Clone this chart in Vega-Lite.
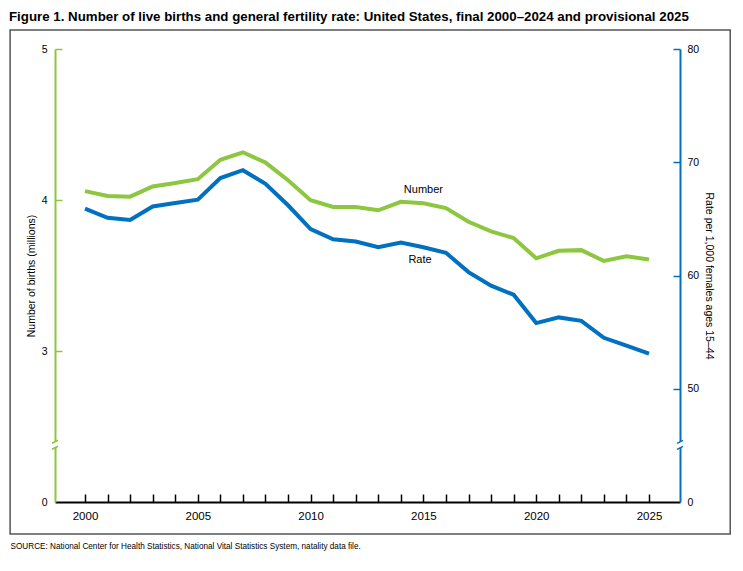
{
  "$schema": "https://vega.github.io/schema/vega-lite/v6.json",
  "width": 625,
  "height": 453,
  "autosize": {"type": "none"},
  "padding": {"left": 55, "top": 49, "right": 63, "bottom": 69},
  "background": "white",
  "config": {
    "view": {"stroke": null},
    "font": "Liberation Sans",
    "axis": {"labelFont": "Liberation Sans", "titleFont": "Liberation Sans", "labelColor": "#000", "titleColor": "#000", "titleFontWeight": "normal", "grid": false}
  },
  "title": {
    "text": "Figure 1. Number of live births and general fertility rate: United States, final 2000–2024 and provisional 2025",
    "anchor": "start",
    "frame": "group",
    "dx": -46,
    "font": "Liberation Sans",
    "fontWeight": "bold",
    "fontSize": 13.3,
    "color": "#000",
    "offset": 6
  },
  "data": {
    "values": [
      {"year": 2000, "births": 4.059, "rate": 65.9},
      {"year": 2001, "births": 4.026, "rate": 65.1},
      {"year": 2002, "births": 4.022, "rate": 64.9},
      {"year": 2003, "births": 4.090, "rate": 66.1},
      {"year": 2004, "births": 4.112, "rate": 66.4},
      {"year": 2005, "births": 4.138, "rate": 66.7},
      {"year": 2006, "births": 4.266, "rate": 68.6},
      {"year": 2007, "births": 4.316, "rate": 69.3},
      {"year": 2008, "births": 4.248, "rate": 68.1},
      {"year": 2009, "births": 4.131, "rate": 66.2},
      {"year": 2010, "births": 3.999, "rate": 64.1},
      {"year": 2011, "births": 3.954, "rate": 63.2},
      {"year": 2012, "births": 3.953, "rate": 63.0},
      {"year": 2013, "births": 3.932, "rate": 62.5},
      {"year": 2014, "births": 3.988, "rate": 62.9},
      {"year": 2015, "births": 3.978, "rate": 62.5},
      {"year": 2016, "births": 3.946, "rate": 62.0},
      {"year": 2017, "births": 3.856, "rate": 60.3},
      {"year": 2018, "births": 3.792, "rate": 59.1},
      {"year": 2019, "births": 3.748, "rate": 58.3},
      {"year": 2020, "births": 3.614, "rate": 55.8},
      {"year": 2021, "births": 3.664, "rate": 56.3},
      {"year": 2022, "births": 3.668, "rate": 56.0},
      {"year": 2023, "births": 3.596, "rate": 54.5},
      {"year": 2024, "births": 3.628, "rate": 53.8},
      {"year": 2025, "births": 3.606, "rate": 53.1}
    ]
  },
  "encoding": {
    "x": {
      "field": "year",
      "type": "quantitative",
      "scale": {"domain": [1998.67, 2026.374], "nice": false, "zero": false},
      "axis": {
        "values": [2000, 2001, 2002, 2003, 2004, 2005, 2006, 2007, 2008, 2009, 2010, 2011, 2012, 2013, 2014, 2015, 2016, 2017, 2018, 2019, 2020, 2021, 2022, 2023, 2024, 2025],
        "format": "d",
        "labelExpr": "datum.value % 5 === 0 ? datum.label : ''",
        "labelFlush": false,
        "labelOverlap": false,
        "domainColor": "#000",
        "domainWidth": 2,
        "tickColor": "#000",
        "tickWidth": 1.5,
        "tickSize": -8,
        "labelPadding": 16,
        "labelFontSize": 11.5,
        "title": "SOURCE: National Center for Health Statistics, National Vital Statistics System, natality data file.",
        "titleFontSize": 8.2,
        "titleAnchor": "start",
        "titleAlign": "left",
        "titleBaseline": "alphabetic",
        "titleX": -45,
        "titleY": 46
      }
    }
  },
  "layer": [
    {
      "layer": [
        {
          "transform": [{"filter": "datum.year == 2000"}],
          "mark": {"type": "rect", "fillOpacity": 0, "stroke": "#555555", "strokeWidth": 1.5},
          "encoding": {
            "x": {"datum": 1996.68},
            "x2": {"datum": 2028.6},
            "y": {"datum": 5.126},
            "y2": {"datum": 1.788}
          }
        },
        {
          "mark": {"type": "line", "color": "#8DC63F", "strokeWidth": 4},
          "encoding": {
            "y": {
              "field": "births",
              "type": "quantitative",
              "scale": {"domain": [2, 5], "nice": false, "zero": false},
              "axis": {
                "orient": "left",
                "values": [2, 3, 4, 5],
                "format": "d",
                "labelExpr": "datum.value === 2 ? '0' : datum.label",
                "domainColor": "#8DC63F",
                "domainWidth": 2,
                "tickColor": {"condition": {"test": "datum.value === 2", "value": "transparent"}, "value": "#8DC63F"},
                "tickWidth": 1.5,
                "tickSize": -7,
                "labelPadding": 15,
                "labelFontSize": 10.5,
                "title": "Number of births (millions)",
                "titleFontSize": 10.5,
                "titlePadding": 5
              }
            }
          }
        },
        {
          "transform": [{"filter": "datum.year == 2000"}],
          "mark": {"type": "text", "fontSize": 11, "color": "#000"},
          "encoding": {
            "x": {"datum": 2015},
            "y": {"datum": 4.066},
            "text": {"value": "Number"}
          }
        },
        {
          "transform": [{"filter": "datum.year == 2000"}],
          "mark": {"type": "point", "shape": "M-1,-0.5L1,-1.5L1,0.5L-1,1.5Z", "filled": true, "fill": "white", "opacity": 1, "strokeWidth": 0, "size": 36},
          "encoding": {"x": {"datum": 1998.67}, "y": {"datum": 2.379}}
        },
        {
          "transform": [{"filter": "datum.year == 2000"}],
          "mark": {"type": "point", "shape": "M-1,-0.5L1,-1.5M-1,1.5L1,0.5", "filled": false, "stroke": "#8DC63F", "opacity": 1, "strokeWidth": 1.5, "size": 36},
          "encoding": {"x": {"datum": 1998.67}, "y": {"datum": 2.379}}
        }
      ]
    },
    {
      "layer": [
        {
          "mark": {"type": "line", "color": "#0070C0", "strokeWidth": 4},
          "encoding": {
            "y": {
              "field": "rate",
              "type": "quantitative",
              "scale": {"domain": [40, 80], "nice": false, "zero": false},
              "axis": {
                "orient": "right",
                "values": [40, 50, 60, 70, 80],
                "format": "d",
                "labelExpr": "datum.value === 40 ? '0' : datum.label",
                "domainColor": "#0070C0",
                "domainWidth": 2,
                "tickColor": {"condition": {"test": "datum.value === 40", "value": "transparent"}, "value": "#0070C0"},
                "tickWidth": 1.5,
                "tickSize": -7,
                "labelPadding": 14,
                "labelFontSize": 10.5,
                "title": "Rate per 1,000 females ages 15–44",
                "titleFontSize": 10.5,
                "titlePadding": 5
              }
            }
          }
        },
        {
          "transform": [{"filter": "datum.year == 2000"}],
          "mark": {"type": "text", "fontSize": 11, "color": "#000"},
          "encoding": {
            "x": {"datum": 2014.85},
            "y": {"datum": 61.4},
            "text": {"value": "Rate"}
          }
        },
        {
          "transform": [{"filter": "datum.year == 2000"}],
          "mark": {"type": "point", "shape": "M-1,-0.5L1,-1.5L1,0.5L-1,1.5Z", "filled": true, "fill": "white", "opacity": 1, "strokeWidth": 0, "size": 36},
          "encoding": {"x": {"datum": 2026.374}, "y": {"datum": 45.05}}
        },
        {
          "transform": [{"filter": "datum.year == 2000"}],
          "mark": {"type": "point", "shape": "M-1,-0.5L1,-1.5M-1,1.5L1,0.5", "filled": false, "stroke": "#0070C0", "opacity": 1, "strokeWidth": 1.5, "size": 36},
          "encoding": {"x": {"datum": 2026.374}, "y": {"datum": 45.05}}
        }
      ]
    }
  ],
  "resolve": {"scale": {"y": "independent"}}
}
